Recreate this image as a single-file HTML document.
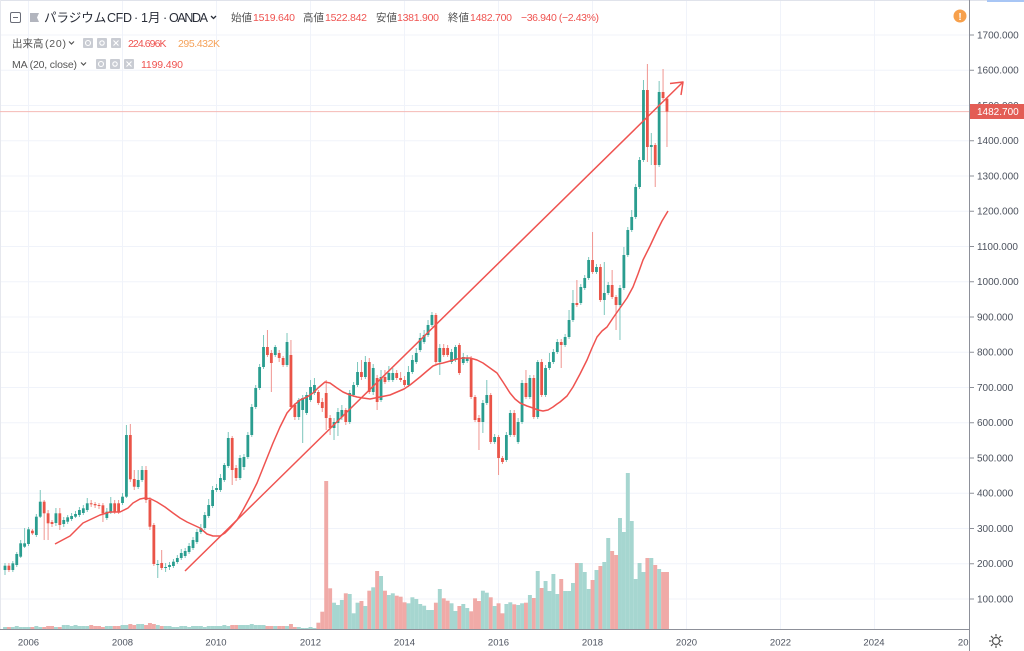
<!DOCTYPE html>
<html><head><meta charset="utf-8">
<style>
html,body{margin:0;padding:0;background:#fff;}
body{width:1024px;height:651px;overflow:hidden;position:relative;font-family:"Liberation Sans","Noto Sans CJK JP",sans-serif;}
svg{position:absolute;left:0;top:0;}
</style></head><body>
<svg width="1024" height="651" xmlns="http://www.w3.org/2000/svg" font-family="Liberation Sans, Noto Sans CJK JP, sans-serif">
<rect x="0" y="0" width="1024" height="651" fill="#ffffff"/>
<g stroke="#f0f3fa" stroke-width="1">
<line x1="0" x2="969" y1="599" y2="599"/><line x1="0" x2="969" y1="563.75" y2="563.75"/><line x1="0" x2="969" y1="528.5" y2="528.5"/><line x1="0" x2="969" y1="493.25" y2="493.25"/><line x1="0" x2="969" y1="458" y2="458"/><line x1="0" x2="969" y1="422.75" y2="422.75"/><line x1="0" x2="969" y1="387.5" y2="387.5"/><line x1="0" x2="969" y1="352.25" y2="352.25"/><line x1="0" x2="969" y1="317" y2="317"/><line x1="0" x2="969" y1="281.75" y2="281.75"/><line x1="0" x2="969" y1="246.5" y2="246.5"/><line x1="0" x2="969" y1="211.25" y2="211.25"/><line x1="0" x2="969" y1="176" y2="176"/><line x1="0" x2="969" y1="140.75" y2="140.75"/><line x1="0" x2="969" y1="105.5" y2="105.5"/><line x1="0" x2="969" y1="70.25" y2="70.25"/><line x1="0" x2="969" y1="35" y2="35"/>
<line x1="28.5" x2="28.5" y1="0" y2="629"/><line x1="122.5" x2="122.5" y1="0" y2="629"/><line x1="216.5" x2="216.5" y1="0" y2="629"/><line x1="310.5" x2="310.5" y1="0" y2="629"/><line x1="404.5" x2="404.5" y1="0" y2="629"/><line x1="498.5" x2="498.5" y1="0" y2="629"/><line x1="592.5" x2="592.5" y1="0" y2="629"/><line x1="686.5" x2="686.5" y1="0" y2="629"/><line x1="780.5" x2="780.5" y1="0" y2="629"/><line x1="874.5" x2="874.5" y1="0" y2="629"/>
</g>
<line x1="0" x2="1024" y1="0.5" y2="0.5" stroke="#e0e3eb"/>
<rect x="987" y="0" width="37" height="2" fill="#a8c6f5"/>
<line x1="0.5" x2="0.5" y1="0" y2="629" stroke="#e6e8ee"/>
<line x1="0" x2="969" y1="111.6" y2="111.6" stroke="#f5b9b5" stroke-width="1"/>
<g id="vol"></g>
<g id="cdl"></g>
<path d="M55,544 L70,536 L83,523 L100,515 L110,512 L120,512 L128,508 L133,503 L140,499 L145,498 L151,499 L157,502 L165,507 L173,513 L180,518 L187,522 L200,528 L207,534 L213,536 L220,536 L225,533 L230,528 L237,520 L243,510 L250,497 L257,483 L265,463 L273,443 L280,427 L287,413 L293,406 L300,400 L307,397 L313,393 L318,388 L325,382 L330,383 L337,388 L343,392 L350,395 L357,397 L363,398 L370,399 L380,397 L390,395 L397,392 L404,389 L410,385 L415,381 L420,377 L427,371 L433,366 L438,364 L443,363 L450,361 L457,359 L463,358 L470,358 L477,360 L483,363 L490,368 L497,373 L503,382 L510,393 L515,399 L520,403 L527,406 L533,408 L538,410 L543,411 L548,410 L553,407 L557,404 L560,402 L567,396 L573,387 L580,374 L587,360 L592,348 L597,337 L602,331 L607,327 L613,318 L620,308 L627,298 L633,287 L638,274 L643,260 L650,246 L657,231 L662,221 L668,211" fill="none" stroke="#ef5350" stroke-width="1.5" stroke-linejoin="round"/>
<path d="M185,571 L683,82" fill="none" stroke="#ef5350" stroke-width="1.5"/>
<path d="M670,83.5 L683,82 L681,95" fill="none" stroke="#ef5350" stroke-width="1.5" stroke-linejoin="round"/>
<line x1="0" x2="969.5" y1="629.5" y2="629.5" stroke="#8d9099" stroke-width="1"/>
<g font-size="9.5" fill="#4c525e" text-anchor="middle">
<text x="28.5" y="645.5">2006</text><text x="122.5" y="645.5">2008</text><text x="216" y="645.5">2010</text><text x="310.5" y="645.5">2012</text><text x="404.5" y="645.5">2014</text><text x="498.5" y="645.5">2016</text><text x="592.5" y="645.5">2018</text><text x="686.5" y="645.5">2020</text><text x="780.5" y="645.5">2022</text><text x="874" y="645.5">2024</text><text x="968.5" y="645.5">2026</text>
</g>
<rect x="970" y="2" width="54" height="649" fill="#ffffff"/>
<line x1="969.5" x2="969.5" y1="0" y2="651" stroke="#8d9099" stroke-width="1"/>
<g stroke="#8d9099" stroke-width="1">
<line x1="970" x2="974" y1="599" y2="599"/><line x1="970" x2="974" y1="563.75" y2="563.75"/><line x1="970" x2="974" y1="528.5" y2="528.5"/><line x1="970" x2="974" y1="493.25" y2="493.25"/><line x1="970" x2="974" y1="458" y2="458"/><line x1="970" x2="974" y1="422.75" y2="422.75"/><line x1="970" x2="974" y1="387.5" y2="387.5"/><line x1="970" x2="974" y1="352.25" y2="352.25"/><line x1="970" x2="974" y1="317" y2="317"/><line x1="970" x2="974" y1="281.75" y2="281.75"/><line x1="970" x2="974" y1="246.5" y2="246.5"/><line x1="970" x2="974" y1="211.25" y2="211.25"/><line x1="970" x2="974" y1="176" y2="176"/><line x1="970" x2="974" y1="140.75" y2="140.75"/><line x1="970" x2="974" y1="105.5" y2="105.5"/><line x1="970" x2="974" y1="70.25" y2="70.25"/><line x1="970" x2="974" y1="35" y2="35"/>
</g>
<g font-size="10" fill="#4c525e">
<text x="977" y="602.5">100.000</text>
<text x="977" y="567.2">200.000</text><text x="977" y="532">300.000</text><text x="977" y="496.7">400.000</text><text x="977" y="461.5">500.000</text><text x="977" y="426.2">600.000</text><text x="977" y="391">700.000</text><text x="977" y="355.7">800.000</text><text x="977" y="320.5">900.000</text><text x="977" y="285.2">1000.000</text><text x="977" y="250">1100.000</text><text x="977" y="214.7">1200.000</text><text x="977" y="179.5">1300.000</text><text x="977" y="144.2">1400.000</text><text x="977" y="109">1500.000</text><text x="977" y="73.7">1600.000</text><text x="977" y="38.5">1700.000</text>
</g>
<rect x="970" y="104" width="54" height="15" fill="#e35d55"/>
<text x="977" y="115" font-size="10" fill="#ffffff">1482.700</text>
<g transform="translate(996,641)" stroke="#555" stroke-width="1.2" fill="none">
<circle r="3.5"/>
<line x1="0" y1="-7" x2="0" y2="-4.5"/><line x1="0" y1="4.5" x2="0" y2="7"/><line x1="-7" y1="0" x2="-4.5" y2="0"/><line x1="4.5" y1="0" x2="7" y2="0"/>
<line x1="-5" y1="-5" x2="-3.2" y2="-3.2"/><line x1="3.2" y1="3.2" x2="5" y2="5"/><line x1="-5" y1="5" x2="-3.2" y2="3.2"/><line x1="3.2" y1="-3.2" x2="5" y2="-5"/>
</g>
<circle cx="960" cy="16" r="6.5" fill="#f7a04b"/>
<text x="960" y="20" font-size="10" font-weight="bold" fill="#fff" text-anchor="middle">!</text>
<rect x="10.5" y="12.5" width="10" height="10" rx="1.5" fill="none" stroke="#6a6d78" stroke-width="1"/>
<line x1="13" x2="18" y1="17.5" y2="17.5" stroke="#6a6d78"/>
<path d="M30,13 L39,13 L37,17.5 L39,22 L30,22 Z" fill="#b2b5be"/>
<g font-size="12.5" fill="#2a2e39">
<text x="44" y="22">パラジウム</text>
<text x="107" y="22" textLength="25">CFD</text>
<text x="134" y="22">·</text>
<text x="141" y="22">1月</text>
<text x="163" y="22">·</text>
<text x="169" y="22" textLength="39">OANDA</text>
</g>
<path d="M211,16 L213.5,18.5 L216,16" fill="none" stroke="#2a2e39" stroke-width="1.3"/>
<g font-size="10.5">
<text x="231" y="21" fill="#555">始値</text><text x="253" y="21" fill="#ef5350" textLength="42">1519.640</text>
<text x="303" y="21" fill="#555">高値</text><text x="325" y="21" fill="#ef5350" textLength="42">1522.842</text>
<text x="376" y="21" fill="#555">安値</text><text x="397" y="21" fill="#ef5350" textLength="42">1381.900</text>
<text x="448" y="21" fill="#555">終値</text><text x="470" y="21" fill="#ef5350" textLength="42">1482.700</text>
<text x="521" y="21" fill="#ef5350" textLength="78">−36.940 (−2.43%)</text>
</g>
<g font-size="10.5" fill="#555">
<text x="12" y="47">出来高</text><text x="45" y="47" textLength="21">(20)</text>
<text x="12" y="68" textLength="65">MA (20, close)</text>
</g>
<path d="M69,41.5 L71.5,44 L74,41.5" fill="none" stroke="#555" stroke-width="1.2"/>
<path d="M81,62.5 L83.5,65 L86,62.5" fill="none" stroke="#555" stroke-width="1.2"/>
<g fill="#c9ccd3">
<rect x="83" y="38" width="10" height="10" rx="1"/><rect x="97" y="38" width="10" height="10" rx="1"/><rect x="111" y="38" width="10" height="10" rx="1"/>
<rect x="96" y="59" width="10" height="10" rx="1"/><rect x="110" y="59" width="10" height="10" rx="1"/><rect x="124" y="59" width="10" height="10" rx="1"/>
</g>
<g stroke="#fff" stroke-width="1.1" fill="none">
<circle cx="88" cy="43" r="2.5"/><circle cx="102" cy="43" r="2.2"/><line x1="113.5" y1="40.5" x2="118.5" y2="45.5"/><line x1="118.5" y1="40.5" x2="113.5" y2="45.5"/>
<circle cx="101" cy="64" r="2.5"/><circle cx="115" cy="64" r="2.2"/><line x1="126.5" y1="61.5" x2="131.5" y2="66.5"/><line x1="131.5" y1="61.5" x2="126.5" y2="66.5"/>
</g>
<g font-size="10.5">
<text x="128" y="47" fill="#ef5350" textLength="38.5">224.696K</text>
<text x="178" y="47" fill="#f5a25a" textLength="42">295.432K</text>
<text x="141" y="68" fill="#ef5350" textLength="42">1199.490</text>
</g>
</svg>
<script>
(function(){
var D=[[570,565.7,563,575],[565.7,570,563,572],[570,563.3,561,572],[565,554,552,567],[556.7,543.3,540,558],[546.7,543.3,528,548],[544,529.3,527,546],[530.7,533.3,529,535],[535,516.7,514,537],[516.7,501.7,490,518],
[501.7,513.3,500,540],[513.3,523.3,510,540],[522,524,520,527],[523,513.3,508,526],[513.3,525,508,530],[524,520,517,527],[521.7,517.3,515,524],[519,516,513,521],[516.7,514,511,518],[515,510,507,517],
[513,508.3,505,515],[510,503.3,498,512],[503.3,504.3,500,507],[504,505.3,502,508],[505,506,503,509],[505.3,513.3,503,522],[518,511.7,508,520],[512.7,503.3,497,514],[503.3,511.7,500,514],[503.3,511.7,500,514],
[503,496.7,493,505],[496.7,435,425,498],[435,479.3,424,482],[479,486.7,470,490],[487,480,470,489],[480,470,466,482],[470,500,466,503],[500,526.7,497,530],[525,564,523,566],[565,564,560,578],
[563,568,550,570],[568,567,563,572],[567,565,562,570],[566,561.7,559,568],[562,558,555,564],[558,553,549,560],[556,551,548,558],[552,546,543,554],[548,540,537,550],[542,532,529,544],
[532,528,524,534],[528,515,512,530],[516,505,499,518],[506,490,486,508],[490,488,484,492],[490,478,474,492],[480,465,463,482],[466,438,432,468],[438,470,436,485],[468,478,465,481],
[478,458,455,480],[467,457,454,470],[457,435,432,459],[435,407,404,437],[407,388,385,409],[388,367,364,390],[367,347,335,369],[347,355,330,357],[353,363,350,392],[355,347,345,357],
[353,358,350,362],[358,365,356,367],[365,342,333,367],[355,407,340,409],[405,417,403,420],[417,400,398,420],[410,398,395,443],[413,395,392,415],[400,387,380,402],[393,385,378,395],
[392,403,390,405],[402,408,398,412],[393,418,380,430],[418,428,415,435],[428,422,418,440],[423,412,408,436],[417,410,405,420],[410,422,408,425],[422,393,390,424],[395,385,382,397],
[385,372,362,387],[372,377,360,380],[377,362,356,379],[362,392,358,394],[392,368,364,395],[378,402,375,410],[400,377,370,402],[377,382,370,384],[380,373,366,382],[380,373,368,382],
[373,378,370,380],[378,380,372,382],[380,385,376,387],[385,372,366,387],[372,360,355,374],[362,353,348,364],[350,338,333,352],[342,335,330,344],[335,325,320,337],[325,315,312,327],
[315,362,313,364],[362,348,344,375],[348,355,344,357],[348,355,345,357],[362,352,349,364],[360,347,345,362],[345,373,343,375],[363,357,353,365],[361,358,355,363],[358,397,356,399],
[397,420,395,422],[418,422,415,450],[422,403,400,433],[403,395,380,405],[395,442,393,444],[442,437,434,444],[437,458,435,475],[458,462,456,464],[460,435,432,462],[435,413,410,437],
[413,435,410,437],[442,422,418,444],[422,383,380,424],[383,397,370,399],[397,378,375,399],[378,417,375,419],[417,362,360,419],[362,395,359,397],[395,368,365,397],[368,362,353,370],
[362,352,349,364],[352,342,339,354],[342,345,339,368],[345,337,334,347],[337,320,310,339],[320,303,290,322],[303,305,280,307],[303,287,284,305],[288,278,275,290],[278,260,257,280],
[260,272,232,274],[272,267,264,274],[267,300,264,302],[300,293,262,315],[293,285,282,295],[285,297,270,299],[297,305,295,330],[305,288,285,340],[288,255,247,290],[255,230,227,257],
[230,217,210,232],[217,187,184,219],[187,160,157,189],[160,90,80,162],[90,147,64,162],[147,145,133,165],[145,165,143,187],[165,92,81,167],[92,98,69,100],[98.6,111.6,97.5,147]];
var SH=[2,2,2,3,2,2,2,2,3,2, 2,3,3,2,2,4,4,3,4,3, 3,3,4,3,3,2,3,3,3,3, 4,4,5,4,5,5,4,6,5,4, 3,3,3,2,2,3,3,2,3,3, 3,2,3,3,3,3,4,3,4,4, 4,4,4,5,4,4,4,3,3,3, 3,3,3,5,2,2,1,1,2,1];
var VT=[622.7,611.7,481,588.3,602.7,605,600,593.3,594,613.3,602.7,601,606,590.7,587.3,571,576,590.7,595,593.3,595.7,596.7,602.3,603.3,597.3,599,604,605.7,610,610,602.7,589,598.3,600.7,603.3,611,606,604,608,611.3,598.3,601,590.7,592.7,597.3,606,603.3,613.3,604,602.3,604.3,605,603.3,602.7,595,598,571,588,581,591,574,594,579,591,591,583,563,563,572,589,580,570,566,562,538,551,555,518,532,473,521,579,563,572,558,558,565,569,572,572];
var vol='',cdl='';
for(var i=0;i<D.length;i++){
 var o=D[i][0],c=D[i][1],h=D[i][2],l=D[i][3];
 var cx=5+3.917*i; var up=c<=o;
 var vt=i<80?629-SH[i]:VT[i-80];
 vol+='<rect x="'+(cx-1.96).toFixed(2)+'" y="'+vt+'" width="3.95" height="'+(629-vt).toFixed(2)+'" fill="'+(up?'#a6d6d0':'#f0aaa7')+'"/>';
 cdl+='<line x1="'+cx.toFixed(2)+'" x2="'+cx.toFixed(2)+'" y1="'+h+'" y2="'+l+'" stroke="'+(up?'#7cc6bc':'#f09590')+'" stroke-width="1"/>';
 var by=Math.min(o,c),bh=Math.max(Math.abs(o-c),1);
 cdl+='<rect x="'+(cx-1.4).toFixed(2)+'" y="'+by+'" width="2.8" height="'+bh.toFixed(2)+'" fill="'+(up?'#2a9d8f':'#ea5448')+'"/>';
}
document.getElementById('vol').innerHTML=vol;
document.getElementById('cdl').innerHTML=cdl;
})();
</script>
</body></html>
